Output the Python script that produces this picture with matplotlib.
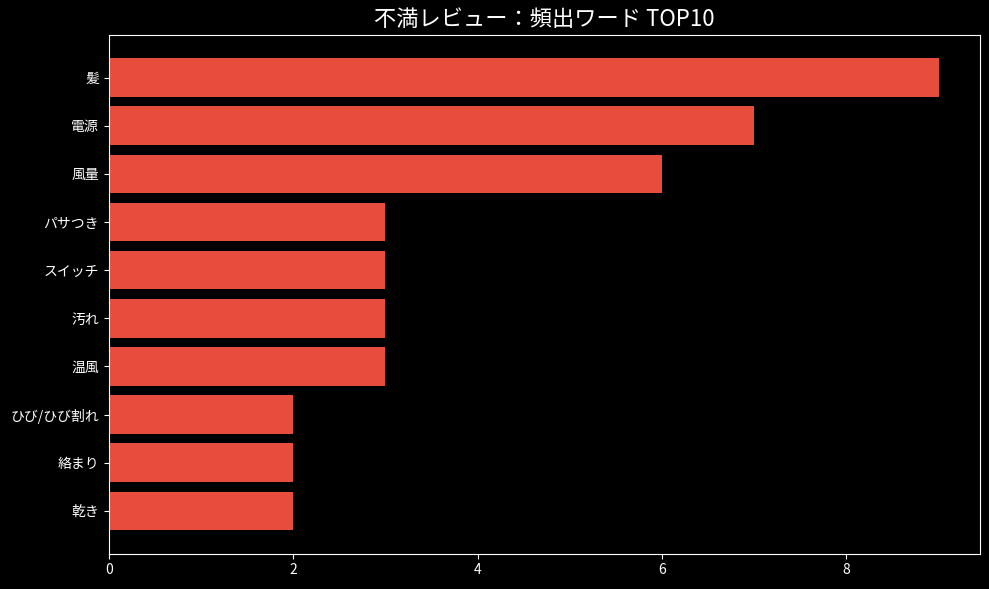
import matplotlib.pyplot as plt

# 頻出ワードと出現回数（上から順）
words = ["髪", "電源", "風量", "パサつき", "スイッチ", "汚れ", "温風", "ひび/ひび割れ", "絡まり", "乾き"]
counts = [9, 7, 6, 3, 3, 3, 3, 2, 2, 2]

plt.style.use("dark_background")
plt.rcParams["font.family"] = ["Noto Sans CJK JP", "DejaVu Sans"]

fig, ax = plt.subplots(figsize=(9.89, 5.89), dpi=100)
fig.subplots_adjust(left=0.110, right=0.991, top=0.941, bottom=0.060)

ax.barh(words[::-1], counts[::-1], height=0.8, color="#e74c3c")
ax.set_title("不満レビュー：頻出ワード TOP10", fontsize=16)
ax.set_xticks([0, 2, 4, 6, 8])

fig.savefig("out.png", dpi=100)
